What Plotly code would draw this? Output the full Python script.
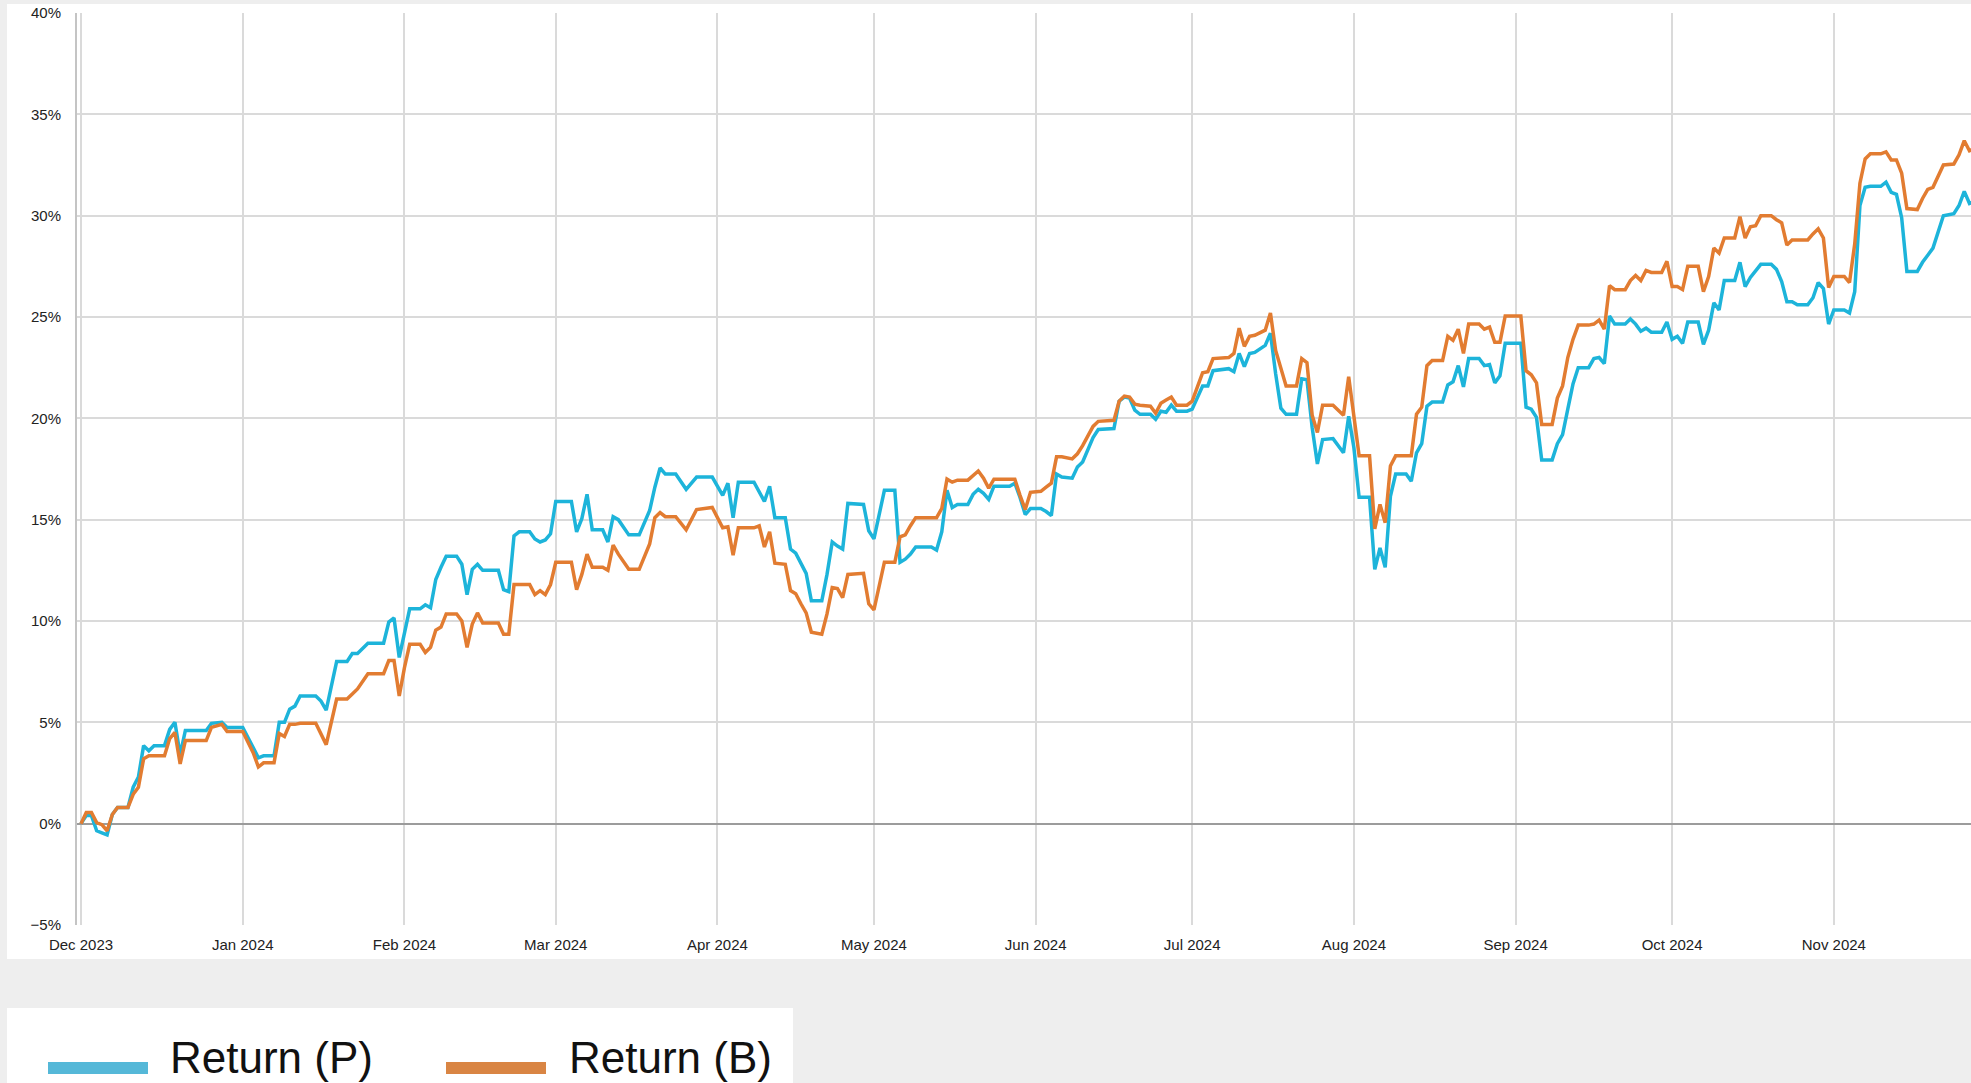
import plotly.graph_objects as go

# ---------------- data ----------------
dates = [
    # Dec 2023
    "2023-12-01", "2023-12-02", "2023-12-03", "2023-12-04", "2023-12-05", "2023-12-06", "2023-12-07", "2023-12-08",
    "2023-12-10", "2023-12-11", "2023-12-12", "2023-12-13", "2023-12-14", "2023-12-15", "2023-12-17", "2023-12-18",
    "2023-12-19", "2023-12-20", "2023-12-21", "2023-12-25", "2023-12-26", "2023-12-28", "2023-12-29",
    # Jan 2024
    "2024-01-01", "2024-01-03", "2024-01-04", "2024-01-05", "2024-01-07", "2024-01-08", "2024-01-09", "2024-01-10",
    "2024-01-11", "2024-01-12", "2024-01-15", "2024-01-16", "2024-01-17", "2024-01-19", "2024-01-21", "2024-01-22",
    "2024-01-23", "2024-01-25", "2024-01-28", "2024-01-29", "2024-01-30", "2024-01-31",
    # Feb 2024
    "2024-02-01", "2024-02-02", "2024-02-04", "2024-02-05", "2024-02-06", "2024-02-07", "2024-02-08", "2024-02-09",
    "2024-02-11", "2024-02-12", "2024-02-13", "2024-02-14", "2024-02-15", "2024-02-16", "2024-02-19", "2024-02-20",
    "2024-02-21", "2024-02-22", "2024-02-23", "2024-02-25", "2024-02-26", "2024-02-27", "2024-02-28", "2024-02-29",
    # Mar 2024
    "2024-03-01", "2024-03-04", "2024-03-05", "2024-03-06", "2024-03-07", "2024-03-08", "2024-03-10", "2024-03-11",
    "2024-03-12", "2024-03-13", "2024-03-15", "2024-03-17", "2024-03-19", "2024-03-20", "2024-03-21", "2024-03-22",
    "2024-03-24", "2024-03-26", "2024-03-28", "2024-03-31",
    # Apr 2024
    "2024-04-02", "2024-04-03", "2024-04-04", "2024-04-05", "2024-04-08", "2024-04-09", "2024-04-10", "2024-04-11",
    "2024-04-12", "2024-04-14", "2024-04-15", "2024-04-16", "2024-04-17", "2024-04-18", "2024-04-19", "2024-04-21",
    "2024-04-22", "2024-04-23", "2024-04-24", "2024-04-25", "2024-04-26", "2024-04-29", "2024-04-30",
    # May 2024
    "2024-05-01", "2024-05-03", "2024-05-05", "2024-05-06", "2024-05-07", "2024-05-08", "2024-05-09", "2024-05-12",
    "2024-05-13", "2024-05-14", "2024-05-15", "2024-05-16", "2024-05-17", "2024-05-19", "2024-05-20", "2024-05-21",
    "2024-05-22", "2024-05-23", "2024-05-24", "2024-05-27", "2024-05-28", "2024-05-29", "2024-05-30", "2024-05-31",
    # Jun 2024
    "2024-06-02", "2024-06-03", "2024-06-04", "2024-06-05", "2024-06-06", "2024-06-08", "2024-06-09", "2024-06-10",
    "2024-06-12", "2024-06-13", "2024-06-16", "2024-06-17", "2024-06-18", "2024-06-19", "2024-06-20", "2024-06-21",
    "2024-06-23", "2024-06-24", "2024-06-25", "2024-06-26", "2024-06-27", "2024-06-28", "2024-06-30",
    # Jul 2024
    "2024-07-01", "2024-07-02", "2024-07-03", "2024-07-04", "2024-07-05", "2024-07-08", "2024-07-09", "2024-07-10",
    "2024-07-11", "2024-07-12", "2024-07-13", "2024-07-15", "2024-07-16", "2024-07-17", "2024-07-18", "2024-07-19",
    "2024-07-21", "2024-07-22", "2024-07-23", "2024-07-24", "2024-07-25", "2024-07-26", "2024-07-28", "2024-07-30",
    "2024-07-31",
    # Aug 2024
    "2024-08-01", "2024-08-02", "2024-08-04", "2024-08-05", "2024-08-06", "2024-08-07", "2024-08-08", "2024-08-09",
    "2024-08-11", "2024-08-12", "2024-08-13", "2024-08-14", "2024-08-15", "2024-08-16", "2024-08-18", "2024-08-19",
    "2024-08-20", "2024-08-21", "2024-08-22", "2024-08-23", "2024-08-25", "2024-08-26", "2024-08-27", "2024-08-28",
    "2024-08-29", "2024-08-30",
    # Sep 2024
    "2024-09-02", "2024-09-03", "2024-09-04", "2024-09-05", "2024-09-06", "2024-09-08", "2024-09-09", "2024-09-10",
    "2024-09-11", "2024-09-12", "2024-09-13", "2024-09-15", "2024-09-16", "2024-09-17", "2024-09-18", "2024-09-19",
    "2024-09-20", "2024-09-22", "2024-09-23", "2024-09-24", "2024-09-25", "2024-09-26", "2024-09-27", "2024-09-29",
    "2024-09-30",
    # Oct 2024
    "2024-10-01", "2024-10-02", "2024-10-03", "2024-10-04", "2024-10-06", "2024-10-07", "2024-10-08", "2024-10-09",
    "2024-10-10", "2024-10-11", "2024-10-13", "2024-10-14", "2024-10-15", "2024-10-16", "2024-10-17", "2024-10-18",
    "2024-10-20", "2024-10-21", "2024-10-22", "2024-10-23", "2024-10-24", "2024-10-25", "2024-10-27", "2024-10-28",
    "2024-10-29", "2024-10-30", "2024-10-31",
    # Nov 2024
    "2024-11-01", "2024-11-03", "2024-11-04", "2024-11-05", "2024-11-06", "2024-11-07", "2024-11-08", "2024-11-10",
    "2024-11-11", "2024-11-12", "2024-11-13", "2024-11-14", "2024-11-15", "2024-11-17", "2024-11-18", "2024-11-19",
    "2024-11-20", "2024-11-22", "2024-11-24", "2024-11-25", "2024-11-26", "2024-11-27", "2024-11-28",
]

return_p = [
    # Dec
    0.0, 0.4, 0.4, -0.35, -0.45, -0.55, 0.45, 0.8, 0.8, 1.8, 2.3, 3.85, 3.6, 3.85, 3.85, 4.65, 5.0, 3.4, 4.6, 4.6, 4.95, 5.0, 4.75,
    # Jan
    4.75, 3.75, 3.25, 3.35, 3.35, 5.0, 5.0, 5.65, 5.8, 6.3, 6.3, 6.05, 5.6, 8.0, 8.0, 8.4, 8.4, 8.9, 8.9, 9.95, 10.15, 8.2,
    # Feb
    9.4, 10.6, 10.6, 10.8, 10.65, 12.05, 12.65, 13.2, 13.2, 12.8, 11.3, 12.55, 12.8, 12.5, 12.5, 11.55, 11.45, 14.2, 14.4, 14.4, 14.05, 13.9, 14.0, 14.3,
    # Mar
    15.9, 15.9, 14.4, 15.05, 16.25, 14.5, 14.5, 13.9, 15.15, 15.0, 14.25, 14.25, 15.45, 16.6, 17.55, 17.25, 17.25, 16.5, 17.1, 17.1,
    # Apr
    16.2, 16.8, 15.1, 16.85, 16.85, 16.4, 15.9, 16.65, 15.1, 15.1, 13.55, 13.35, 12.8, 12.35, 11.0, 11.0, 12.3, 13.9, 13.7, 13.55, 15.8, 15.75, 14.45,
    # May
    14.05, 16.45, 16.45, 12.9, 13.05, 13.3, 13.65, 13.65, 13.5, 14.4, 16.45, 15.6, 15.75, 15.75, 16.25, 16.5, 16.3, 16.0, 16.65, 16.65, 16.8, 16.1, 15.25, 15.55,
    # Jun
    15.55, 15.4, 15.2, 17.25, 17.1, 17.05, 17.6, 17.85, 19.05, 19.45, 19.5, 20.85, 21.05, 21.0, 20.4, 20.2, 20.2, 19.95, 20.35, 20.3, 20.65, 20.35, 20.35,
    # Jul
    20.45, 21.0, 21.6, 21.6, 22.35, 22.45, 22.3, 23.2, 22.55, 23.2, 23.25, 23.6, 24.2, 22.2, 20.5, 20.2, 20.2, 21.95, 21.9, 19.55, 17.75, 18.95, 19.0, 18.3, 20.1,
    # Aug
    18.55, 16.1, 16.1, 12.55, 13.6, 12.65, 16.15, 17.25, 17.25, 16.9, 18.3, 18.75, 20.6, 20.8, 20.8, 21.65, 21.8, 22.6, 21.55, 22.95, 22.95, 22.6, 22.65, 21.75, 22.1, 23.7,
    # Sep
    23.7, 20.55, 20.45, 20.05, 17.95, 17.95, 18.75, 19.2, 20.45, 21.7, 22.5, 22.5, 22.95, 23.0, 22.7, 25.05, 24.65, 24.65, 24.9, 24.65, 24.3, 24.45, 24.25, 24.25, 24.75,
    # Oct
    23.9, 24.05, 23.7, 24.75, 24.75, 23.65, 24.35, 25.7, 25.35, 26.8, 26.8, 27.7, 26.5, 26.95, 27.3, 27.6, 27.6, 27.35, 26.75, 25.75, 25.75, 25.6, 25.6, 25.95, 26.7, 26.4, 24.65,
    # Nov
    25.35, 25.35, 25.2, 26.25, 30.5, 31.4, 31.45, 31.45, 31.65, 31.15, 31.05, 29.9, 27.25, 27.25, 27.7, 28.05, 28.4, 30.0, 30.1, 30.5, 31.2, 30.6, 30.7,
]

return_b = [
    # Dec
    0.0, 0.55, 0.55, 0.05, -0.05, -0.35, 0.45, 0.8, 0.8, 1.45, 1.8, 3.2, 3.35, 3.35, 3.35, 4.2, 4.5, 2.95, 4.1, 4.1, 4.75, 4.9, 4.55,
    # Jan
    4.55, 3.5, 2.8, 3.0, 3.0, 4.45, 4.3, 4.9, 4.9, 4.95, 4.95, 4.4, 3.9, 6.15, 6.15, 6.4, 6.65, 7.4, 7.4, 8.05, 8.05, 6.3,
    # Feb
    7.7, 8.85, 8.85, 8.45, 8.7, 9.55, 9.7, 10.35, 10.35, 10.0, 8.7, 9.85, 10.4, 9.9, 9.9, 9.35, 9.35, 11.8, 11.8, 11.8, 11.3, 11.5, 11.3, 11.8,
    # Mar
    12.9, 12.9, 11.55, 12.3, 13.3, 12.65, 12.65, 12.5, 13.75, 13.3, 12.55, 12.55, 13.8, 15.1, 15.35, 15.15, 15.15, 14.5, 15.5, 15.6,
    # Apr
    14.6, 14.65, 13.25, 14.6, 14.6, 14.7, 13.65, 14.4, 12.85, 12.8, 11.5, 11.35, 10.85, 10.4, 9.45, 9.35, 10.35, 11.65, 11.6, 11.15, 12.3, 12.35, 10.85,
    # May
    10.55, 12.9, 12.9, 14.15, 14.25, 14.7, 15.1, 15.1, 15.1, 15.55, 17.0, 16.85, 16.95, 16.95, 17.2, 17.4, 17.05, 16.55, 17.0, 17.0, 17.0, 16.2, 15.5, 16.35,
    # Jun
    16.4, 16.6, 16.8, 18.1, 18.1, 18.0, 18.25, 18.65, 19.6, 19.85, 19.9, 20.85, 21.1, 21.05, 20.7, 20.65, 20.6, 20.25, 20.75, 20.9, 21.05, 20.65, 20.65,
    # Jul
    20.85, 21.55, 22.25, 22.3, 22.95, 23.0, 23.2, 24.45, 23.55, 24.05, 24.1, 24.35, 25.2, 23.35, 22.5, 21.6, 21.6, 22.95, 22.75, 20.15, 19.3, 20.65, 20.65, 20.15, 22.05,
    # Aug
    20.2, 18.15, 18.15, 14.55, 15.75, 14.85, 17.65, 18.15, 18.15, 18.15, 20.2, 20.55, 22.6, 22.85, 22.85, 24.05, 23.85, 24.4, 23.2, 24.65, 24.65, 24.4, 24.5, 23.75, 23.75, 25.05,
    # Sep
    25.05, 22.35, 22.15, 21.75, 19.7, 19.7, 21.0, 21.6, 23.0, 23.9, 24.6, 24.6, 24.65, 24.85, 24.4, 26.55, 26.35, 26.35, 26.8, 27.05, 26.8, 27.3, 27.2, 27.2, 27.75,
    # Oct
    26.5, 26.5, 26.35, 27.5, 27.5, 26.25, 27.0, 28.4, 28.15, 28.9, 28.9, 29.95, 28.9, 29.45, 29.5, 30.0, 30.0, 29.8, 29.65, 28.55, 28.8, 28.8, 28.8, 29.1, 29.35, 28.9, 26.45,
    # Nov
    27.0, 27.0, 26.7, 28.6, 31.6, 32.8, 33.05, 33.05, 33.15, 32.75, 32.75, 32.1, 30.35, 30.3, 30.85, 31.3, 31.4, 32.5, 32.55, 33.0, 33.7, 33.2, 33.3,
]

series_names = ["Return (P)", "Return (B)"]
tick_start = "2023-12-01"

# ---------------- styling / layout ----------------
W, H = 1971, 1083
ML, MR, MT, MB = 77, 0, 13, 158
PW, PH = W - ML - MR, H - MT - MB

def px_x(px):
    return (px - ML) / PW

def px_y(py):
    return (H - MB - py) / PH

FONT = "Liberation Sans, Arial, Helvetica, sans-serif"
BLUE = "#1db4da"
ORANGE = "#e27c31"
BLUE_SW = "#55b8d8"
ORANGE_SW = "#d98544"
GRID = "#dadada"

fig = go.Figure()
fig.add_trace(go.Scatter(x=dates, y=return_p, mode="lines", name=series_names[0],
                         line=dict(color=BLUE, width=3.5), showlegend=False))
fig.add_trace(go.Scatter(x=dates, y=return_b, mode="lines", name=series_names[1],
                         line=dict(color=ORANGE, width=3.5), showlegend=False))

shapes = [
    # white chart panel
    dict(type="rect", xref="paper", yref="paper", x0=px_x(7), x1=1.0, y0=px_y(959), y1=px_y(4),
         fillcolor="white", line=dict(width=0), layer="below"),
    # white legend panel
    dict(type="rect", xref="paper", yref="paper", x0=px_x(7), x1=px_x(793), y0=px_y(1090), y1=px_y(1008),
         fillcolor="white", line=dict(width=0), layer="below"),
    # legend swatches
    dict(type="line", xref="paper", yref="paper", x0=px_x(48), x1=px_x(148), y0=px_y(1068), y1=px_y(1068),
         line=dict(color=BLUE_SW, width=12)),
    dict(type="line", xref="paper", yref="paper", x0=px_x(446), x1=px_x(546), y0=px_y(1068), y1=px_y(1068),
         line=dict(color=ORANGE_SW, width=12)),
]

annotations = [
    dict(text=series_names[0], xref="paper", yref="paper", x=px_x(168), y=px_y(1057),
         xanchor="left", yanchor="middle", showarrow=False,
         font=dict(family=FONT, size=44, color="#111111")),
    dict(text=series_names[1], xref="paper", yref="paper", x=px_x(567), y=px_y(1057),
         xanchor="left", yanchor="middle", showarrow=False,
         font=dict(family=FONT, size=44, color="#111111")),
]

fig.update_layout(
    width=W, height=H,
    margin=dict(l=ML, r=MR, t=MT, b=MB, pad=0),
    paper_bgcolor="#eeeeee",
    plot_bgcolor="white",
    font=dict(family=FONT, color="#222222"),
    showlegend=False,
    shapes=shapes,
    annotations=annotations,
    xaxis=dict(
        type="date",
        range=["2023-11-30 05:30", "2024-11-27 07:00"],
        tick0=tick_start, dtick="M1", tickformat="%b %Y",
        showgrid=True, gridcolor=GRID, gridwidth=1.5,
        ticks="outside", ticklen=6, tickcolor="rgba(0,0,0,0)",
        tickfont=dict(family=FONT, size=15, color="#222222"),
        showline=False, zeroline=False, fixedrange=True,
    ),
    yaxis=dict(
        range=[-5, 40], dtick=5, tick0=0, ticksuffix="%",
        showgrid=True, gridcolor=GRID, gridwidth=1.5,
        zeroline=True, zerolinecolor="#9c9c9c", zerolinewidth=2,
        showline=True, linecolor="#c4c4c4", linewidth=2,
        ticks="outside", ticklen=11, tickcolor="rgba(0,0,0,0)",
        tickfont=dict(family=FONT, size=15, color="#222222"),
        fixedrange=True,
    ),
)

fig.write_html(
    "out.html",
    config={"displayModeBar": False},
    post_script="document.body.style.margin='0';document.body.style.overflow='hidden';"
                "document.body.style.background='#eeeeee';",
)
